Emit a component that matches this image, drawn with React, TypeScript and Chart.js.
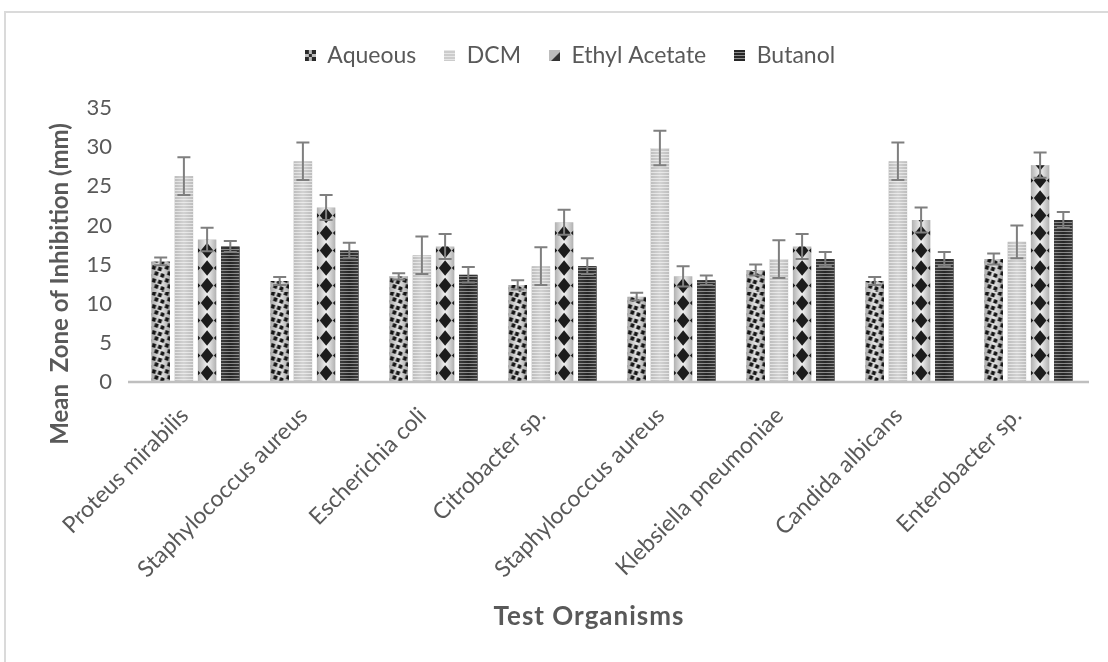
import React, { useEffect, useRef } from 'react';
import { Chart, registerables } from 'chart.js';

Chart.register(...registerables);

const categories = [
  'Proteus mirabilis',
  'Staphylococcus aureus',
  'Escherichia coli',
  'Citrobacter sp.',
  'Staphylococcus aureus',
  'Klebsiella pneumoniae',
  'Candida albicans',
  'Enterobacter sp.',
];
const seriesNames = ['Aqueous', 'DCM', 'Ethyl Acetate', 'Butanol'];

const aqueous = [15.4, 12.9, 13.5, 12.4, 10.9, 14.3, 12.9, 15.7];
const aqueousErr = [0.5, 0.5, 0.4, 0.6, 0.5, 0.7, 0.5, 0.7];
const dcm = [26.3, 28.2, 16.2, 14.8, 29.9, 15.7, 28.2, 17.9];
const dcmErr = [2.4, 2.4, 2.4, 2.4, 2.2, 2.4, 2.4, 2.1];
const ethylAcetate = [18.2, 22.3, 17.3, 20.4, 13.5, 17.3, 20.7, 27.7];
const ethylAcetateErr = [1.5, 1.6, 1.6, 1.6, 1.3, 1.6, 1.6, 1.6];
const butanol = [17.3, 16.8, 13.7, 14.8, 13.0, 15.7, 15.7, 20.7];
const butanolErr = [0.7, 1.0, 1.0, 1.0, 0.6, 0.9, 0.9, 1.0];

const yTickStep = 5;
const yMin = 0;
const yMax = 35;

const yTitle = 'Mean  Zone of Inhibition (mm)';
const xTitle = 'Test Organisms';

const FONT = 'Lato, "Open Sans", "DejaVu Sans", sans-serif';
const TEXT = '#595959';

const seriesValues = [aqueous, dcm, ethylAcetate, butanol];
const seriesErrors = [aqueousErr, dcmErr, ethylAcetateErr, butanolErr];

function makeTile(w: number, h: number, draw: (g: CanvasRenderingContext2D) => void) {
  const c = document.createElement('canvas');
  c.width = w;
  c.height = h;
  const g = c.getContext('2d')!;
  draw(g);
  return c;
}

function drawSquares(g: CanvasRenderingContext2D, w: number, h: number) {
  const pts = [
    [2.5, 2.5],
    [8.5, 4],
    [5, 8.5],
    [11, 10.5],
  ];
  g.fillStyle = '#161616';
  for (const [px, py] of pts) {
    for (const dx of [-w, 0, w]) {
      for (const dy of [-h, 0, h]) {
        g.save();
        g.translate(px + dx, py + dy);
        g.rotate(0.35);
        g.fillRect(-1.9, -1.9, 3.8, 3.8);
        g.restore();
      }
    }
  }
}

export default function App() {
  const ref = useRef<HTMLCanvasElement | null>(null);

  useEffect(() => {
    const canvas = ref.current!;
    const ctx0 = canvas.getContext('2d')!;

    const dotTile = makeTile(13, 13, (g) => drawSquares(g, 13, 13));
    const dcmTile = makeTile(4, 3, (g) => {
      g.fillStyle = 'rgba(255,255,255,0.55)';
      g.fillRect(0, 0, 4, 1);
    });
    const butTile = makeTile(4, 3, (g) => {
      g.fillStyle = 'rgba(170,170,170,0.75)';
      g.fillRect(0, 2, 4, 1);
    });
    const dotPattern = ctx0.createPattern(dotTile, 'repeat')!;
    const dcmPattern = ctx0.createPattern(dcmTile, 'repeat')!;
    const butPattern = ctx0.createPattern(butTile, 'repeat')!;

    // legend icons
    const icons = [
      makeTile(11, 11, (g) => {
        g.fillStyle = '#bdbdbd';
        g.fillRect(0, 0, 11, 11);
        g.fillStyle = '#2a2a2a';
        g.fillRect(0, 0, 4, 4);
        g.fillRect(7, 0, 4, 4);
        g.fillRect(4, 4, 3, 3);
        g.fillRect(0, 7, 4, 4);
        g.fillRect(7, 7, 4, 4);
      }),
      makeTile(11, 11, (g) => {
        g.fillStyle = '#cccccc';
        g.fillRect(0, 0, 11, 11);
        g.fillStyle = '#e6e6e6';
        for (let y = 0; y < 11; y += 3) g.fillRect(0, y, 11, 1);
      }),
      makeTile(11, 11, (g) => {
        g.fillStyle = '#bdbdbd';
        g.fillRect(0, 0, 11, 11);
        g.fillStyle = '#333333';
        g.beginPath();
        g.moveTo(11, 2);
        g.lineTo(11, 11);
        g.lineTo(2, 11);
        g.closePath();
        g.fill();
      }),
      makeTile(11, 11, (g) => {
        g.fillStyle = '#262626';
        g.fillRect(0, 0, 11, 11);
        g.fillStyle = '#8c8c8c';
        for (let y = 2; y < 11; y += 3) g.fillRect(0, y, 11, 1);
      }),
    ];

    function fillBar(ctx: CanvasRenderingContext2D, di: number, left: number, top: number, right: number, bottom: number) {
      const w = right - left;
      const h = bottom - top;
      if (h <= 0) return;
      ctx.save();
      ctx.beginPath();
      ctx.rect(left, top, w, h);
      ctx.clip();
      const grad = ctx.createLinearGradient(left, 0, right, 0);
      if (di === 0) {
        grad.addColorStop(0, '#a9a9a9');
        grad.addColorStop(0.5, '#e6e6e6');
        grad.addColorStop(1, '#a9a9a9');
      } else if (di === 1) {
        grad.addColorStop(0, '#bdbdbd');
        grad.addColorStop(0.5, '#d2d2d2');
        grad.addColorStop(1, '#bdbdbd');
      } else if (di === 2) {
        grad.addColorStop(0, '#b0b0b0');
        grad.addColorStop(0.5, '#f2f2f2');
        grad.addColorStop(1, '#b0b0b0');
      } else {
        grad.addColorStop(0, '#3c3c3c');
        grad.addColorStop(0.5, '#262626');
        grad.addColorStop(1, '#3c3c3c');
      }
      ctx.fillStyle = grad;
      ctx.fillRect(left, top, w, h);

      const m = new DOMMatrix([1, 0, 0, 1, left, bottom]);
      if (di === 0) {
        dotPattern.setTransform(m);
        ctx.fillStyle = dotPattern;
        ctx.fillRect(left, top, w, h);
      } else if (di === 1) {
        dcmPattern.setTransform(m);
        ctx.fillStyle = dcmPattern;
        ctx.fillRect(left, top, w, h);
      } else if (di === 3) {
        butPattern.setTransform(m);
        ctx.fillStyle = butPattern;
        ctx.fillRect(left, top, w, h);
      } else {
        const cx = (left + right) / 2;
        const period = 17.5;
        const hw = w * 0.34;
        const hh = 7.8;
        ctx.fillStyle = '#1c1c1c';
        for (let cy = bottom - 9; cy > top - hh; cy -= period) {
          ctx.beginPath();
          ctx.moveTo(cx, cy - hh);
          ctx.lineTo(cx + hw, cy);
          ctx.lineTo(cx, cy + hh);
          ctx.lineTo(cx - hw, cy);
          ctx.closePath();
          ctx.fill();
          ctx.beginPath();
          ctx.moveTo(left, cy - 2.5);
          ctx.lineTo(left + 2.5, cy);
          ctx.lineTo(left, cy + 2.5);
          ctx.closePath();
          ctx.fill();
          ctx.beginPath();
          ctx.moveTo(right, cy - 2.5);
          ctx.lineTo(right - 2.5, cy);
          ctx.lineTo(right, cy + 2.5);
          ctx.closePath();
          ctx.fill();
        }
      }
      ctx.restore();
    }

    const decor = {
      id: 'decor',
      afterDatasetsDraw(chart: any) {
        const ctx: CanvasRenderingContext2D = chart.ctx;
        const ys = chart.scales.y;
        chart.data.datasets.forEach((_ds: any, di: number) => {
          const meta = chart.getDatasetMeta(di);
          meta.data.forEach((el: any) => {
            const p = el.getProps(['x', 'y', 'base', 'width'], true);
            fillBar(ctx, di, p.x - p.width / 2, p.y, p.x + p.width / 2, p.base);
          });
        });
        // category axis line
        const y0 = ys.getPixelForValue(0);
        ctx.save();
        ctx.strokeStyle = '#bfbfbf';
        ctx.lineWidth = 2.5;
        ctx.beginPath();
        ctx.moveTo(chart.chartArea.left - 8, y0);
        ctx.lineTo(chart.chartArea.right + 1, y0);
        ctx.stroke();
        // error bars
        ctx.strokeStyle = '#7f7f7f';
        ctx.lineWidth = 2;
        chart.data.datasets.forEach((_ds: any, di: number) => {
          const meta = chart.getDatasetMeta(di);
          meta.data.forEach((el: any, i: number) => {
            const v = seriesValues[di][i];
            const e = seriesErrors[di][i];
            const x = el.getProps(['x'], true).x;
            const yt = ys.getPixelForValue(v + e);
            const yb = ys.getPixelForValue(v - e);
            ctx.beginPath();
            ctx.moveTo(x, yt);
            ctx.lineTo(x, yb);
            ctx.moveTo(x - 6.5, yt);
            ctx.lineTo(x + 6.5, yt);
            ctx.moveTo(x - 6.5, yb);
            ctx.lineTo(x + 6.5, yb);
            ctx.stroke();
          });
        });
        ctx.restore();
      },
      afterDraw(chart: any) {
        const ctx: CanvasRenderingContext2D = chart.ctx;
        ctx.save();
        ctx.fillStyle = TEXT;
        ctx.textAlign = 'center';
        ctx.textBaseline = 'middle';
        ctx.font = `bold 26px ${FONT}`;
        (ctx as any).letterSpacing = '1px';
        ctx.fillText(xTitle, 589, 617);
        (ctx as any).letterSpacing = '0px';
        ctx.font = `bold 24px ${FONT}`;
        ctx.translate(60, 284);
        ctx.rotate(-Math.PI / 2);
        ctx.fillText(yTitle, 0, 0);
        ctx.restore();
      },
    };

    const chart = new Chart(canvas, {
      type: 'bar',
      data: {
        labels: categories,
        datasets: seriesNames.map((name, di) => ({
          label: name,
          data: seriesValues[di],
          backgroundColor: ['#bdbdbd', '#cccccc', '#d0d0d0', '#2a2a2a'][di],
          borderWidth: 0,
          categoryPercentage: 0.78,
          barPercentage: 0.8,
        })),
      },
      options: {
        responsive: false,
        animation: false,
        devicePixelRatio: 1,
        layout: { padding: { left: 52, right: 20, top: 16, bottom: 0 } },
        plugins: {
          legend: {
            position: 'top',
            labels: {
              usePointStyle: true,
              boxWidth: 11,
              boxHeight: 11,
              padding: 28,
              color: TEXT,
              font: { family: FONT, size: 23 },
              generateLabels: (c: any) => {
                const items = (Chart.defaults.plugins.legend.labels as any).generateLabels(c);
                return items.map((it: any) => ({
                  ...it,
                  pointStyle: icons[it.datasetIndex],
                  lineWidth: 0,
                  strokeStyle: 'rgba(0,0,0,0)',
                }));
              },
            },
          },
          subtitle: {
            display: true,
            text: '',
            weight: 500,
            font: { size: 10 },
            padding: { top: 0, bottom: 19 },
          } as any,
          tooltip: { enabled: false },
        },
        scales: {
          x: {
            grid: { display: false, drawTicks: false },
            border: { display: false },
            ticks: {
              autoSkip: false,
              minRotation: 45,
              maxRotation: 45,
              padding: 20,
              labelOffset: -11,
              color: TEXT,
              font: { family: FONT, size: 23 },
            },
            afterFit: (s: any) => {
              s.height = 280;
            },
          },
          y: {
            min: yMin,
            max: yMax,
            grid: { display: false, drawTicks: false },
            border: { display: false },
            ticks: {
              stepSize: yTickStep,
              padding: 24,
              color: TEXT,
              font: { family: FONT, size: 22 },
            },
            afterFit: (s: any) => {
              s.width = 84;
            },
          },
        },
      },
      plugins: [decor],
    });

    return () => chart.destroy();
  }, []);

  return (
    <div style={{ position: 'absolute', left: 0, top: 0, width: 1108, height: 662, background: '#fff' }}>
      <div
        style={{
          position: 'absolute',
          left: 4,
          top: 11,
          width: 1104,
          height: 651,
          boxSizing: 'border-box',
          borderTop: '2px solid #dadada',
          borderLeft: '2px solid #dadada',
        }}
      />
      <canvas ref={ref} width={1108} height={662} style={{ position: 'absolute', left: 0, top: 0, width: 1108, height: 662 }} />
    </div>
  );
}
